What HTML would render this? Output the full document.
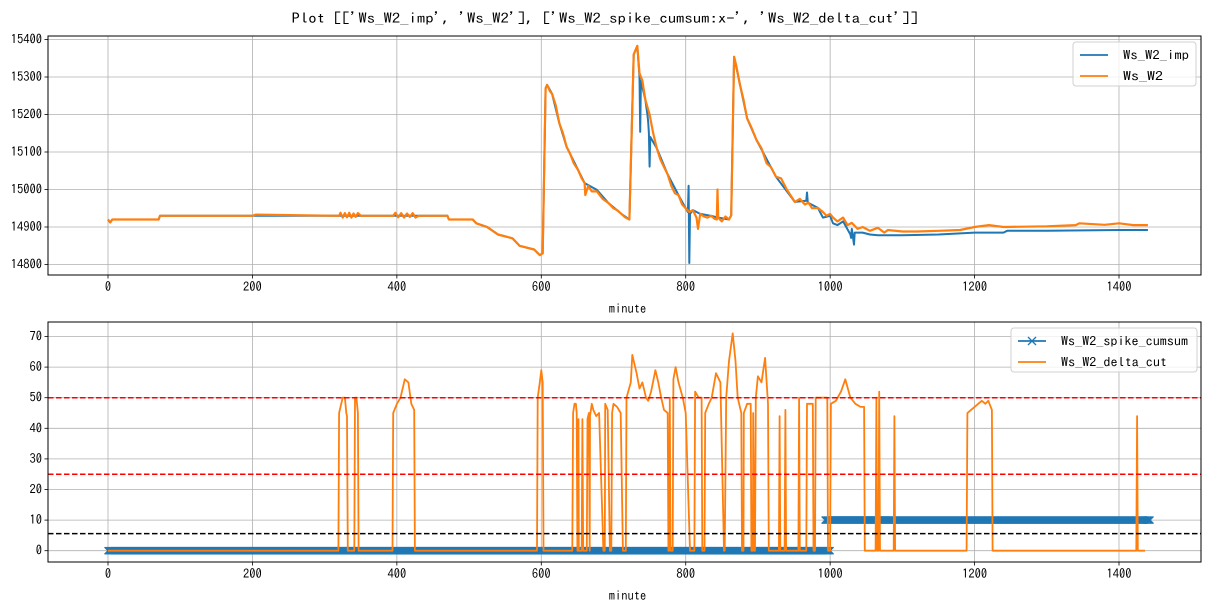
<!DOCTYPE html>
<html><head><meta charset="utf-8">
<style>
html,body{margin:0;padding:0;background:#fff;}
svg{display:block;font-family:"IPAGothic","Liberation Sans","Noto Sans CJK JP",sans-serif;}
</style></head>
<body>
<svg id="fig" width="1211" height="611" xmlns="http://www.w3.org/2000/svg">
<rect width="1211" height="611" fill="#fff"/>
<text x="605" y="23" text-anchor="middle" font-size="14" textLength="627" lengthAdjust="spacingAndGlyphs" fill="#000">Plot [['Ws_W2_imp', 'Ws_W2'], ['Ws_W2_spike_cumsum:x-', 'Ws_W2_delta_cut']]</text>
</svg>
<script>
// ---- top chart data ----
const w2Minutes = [
0,3,6,70,72,200,205,320,
322,325,328,331,334,337,340,343,346,350,
395,398,402,406,410,414,418,422,426,430,470,
472,505,510,525,540,560,570,590,598,602,
606,608,612,615,620,625,630,635,640,645,651,
656,660,661,665,670,677,685,693,700,705,711,716,722,
728,733,736,740,744,750,755,760,765,770,775,780,785,790,795,800,
805,810,815,817,820,825,830,835,840,843,844,845,850,855,860,863,
867,870,875,880,885,890,898,905,912,918,925,932,940,945,951,958,965,970,975,983,
990,995,1000,1004,1010,1018,1024,1030,1038,1045,1055,1066,1075,1080,1100,1120,1150,1180,1200,1220,1240,
1300,1340,1345,1380,1400,1420,1440];
const w2Values = [
14920,14912,14920,14920,14930,14930,14933,14930,
14938,14925,14937,14926,14938,14925,14936,14927,14937,14930,
14930,14938,14926,14937,14925,14936,14927,14937,14925,14930,14930,
14920,14920,14910,14900,14880,14870,14850,14840,14825,14830,
15270,15279,15262,15255,15225,15177,15150,15114,15095,15070,15052,
15030,15017,14985,15010,14995,14995,14975,14964,14950,14945,14935,14926,14920,
15360,15383,15310,15290,15240,15200,15150,15110,15080,15060,15040,15010,14990,14985,14960,14950,
14940,14945,14925,14895,14935,14928,14925,14930,14922,14920,15000,14925,14915,14928,14920,14931,
15354,15330,15280,15240,15190,15170,15132,15110,15070,15060,15034,15030,15000,14985,14967,14975,14960,14965,14950,14951,
14940,14930,14935,14925,14915,14925,14905,14911,14895,14900,14890,14898,14885,14892,14888,14888,14890,14892,14900,14905,14900,
14902,14905,14910,14906,14910,14905,14905];
const impMinutes = [
0,3,6,70,72,470,472,505,510,525,540,560,570,590,598,602,
606,608,615,625,635,651,660,677,693,711,722,
728,733,736,737,738,744,747,748,749,750,751,760,775,790,800,
803,804,805,806,810,820,835,845,860,863,
867,885,898,925,951,967,968,969,983,990,1000,1004,1010,1018,1028,1029,1030,1033,1034,1045,1055,1066,
1080,1100,1150,1200,1240,1245,1300,1400,1440];
const impValues = [
14920,14912,14920,14920,14930,14930,14920,14920,14910,14900,14880,14870,14850,14840,14825,14830,
15270,15279,15255,15177,15114,15052,15017,14999,14964,14935,14920,
15360,15383,15300,15154,15290,15240,15200,15180,15150,15061,15140,15110,15040,14985,14950,
14940,15010,14804,14935,14945,14935,14930,14925,14920,14931,
15354,15190,15132,15034,14967,14970,14992,14965,14951,14925,14930,14910,14905,14915,14880,14871,14895,14853,14885,14885,14880,14878,
14878,14878,14880,14885,14885,14890,14890,14892,14892];
const topYTicks = [14800,14900,15000,15100,15200,15300,15400];
const xTicks = [0,200,400,600,800,1000,1200,1400];
// ---- bottom chart data ----
const cutMinutes = [
0,319,
320,322,325,328,330,331,332,
341,342,344,346,347,
394,395,400,405,411,416,420,424,425,
594,595,598,600,602,603,
643,644,646,648,649,650,
651,651.5,652,
656,657,658,
663,664,666,667,667.5,670,672,676,680,686,
688,688.5,692,695,
697,698,700,705,710,713,
717,718,724,726,732,736,740,745,748,752,758,762,766,770,775,776,
777,778,779,782,783,786,790,796,800,806,
812,813,818,822,823,
826,827,832,836,842,848,853,
854,856,860,865,869,872,877,878,
880,880.5,885,890,891,893,893.5,895,
896,897,900,905,910,914,915,
929,930,931,937,938,939,
956,957,958,967,968,972,976,977,979,980,984,986,996,997,
1000,1001,1008,1015,1021,1028,1035,1042,1047,1048,
1063,1064,1065,1067,1068,1069,1088,1089,1090,
1189,1190,1195,1200,1205,1210,1215,1219,1224,1225,
1424,1425,1426,1436];
const cutValues = [
0,0,
45,47,50,50,45,44,0,
0,50,50,45,0,
0,45,48,50,56,55,48,46,0,
0,50,55,59,55,0,
0,45,48,48,45,0,
0,43,0,
0,43,0,
0,43,45,0,44,48,46,44,45,0,
0,48,46,0,
0,45,48,47,45,0,
0,50,55,64,58,53,55,50,49,52,59,55,50,46,45,0,
0,50,0,0,56,60,55,50,45,0,
0,52,50,50,0,
0,45,48,50,58,55,0,
0,50,62,71,62,50,45,0,
0,45,48,48,0,0,45,0,
0,50,57,55,63,48,0,
0,44,0,0,46,0,
0,50,0,0,48,48,48,0,0,50,50,50,50,0,
0,48,49,52,56,50,48,47,47,0,
0,50,0,0,52,0,0,44,0,
0,45,46,47,48,49,48,49,46,0,
0,44,0,0];
const cumsumStarts = [0,993];
const cumsumEnds   = [1000,1443];
const cumsumValues = [0,10];
const botYTicks = [0,10,20,30,40,50,60,70];
const hLineValues = [50,25,5.6];
const hLineColors = ['#ff0000','#ff0000','#000000'];

const NS='http://www.w3.org/2000/svg';
const svg=document.getElementById('fig');
function mk(tag,attrs,parent){const e=document.createElementNS(NS,tag);for(const k in attrs)e.setAttribute(k,attrs[k]);(parent||svg).appendChild(e);return e;}
const X0=48, X1=1201;
const xs=m=>108+(m)*(1119-108)/1400;
const ysTop=v=>264.5-(v-14800)*(225/600);
const ysBot=v=>550.7-v*(153/50);

function axes(top,bot,yTicks,ys,name){
  const g=mk('g',{});
  
  
  xTicks.forEach(t=>{
    const l=mk('line',{x1:xs(t),x2:xs(t),y1:top,y2:bot,stroke:'#b0b0b0','stroke-width':0.8},g);
    
    
    mk('line',{x1:xs(t),x2:xs(t),y1:bot,y2:bot+3.5,stroke:'#000','stroke-width':0.8},g);
    const tx=mk('text',{x:xs(t),y:bot+16,'text-anchor':'middle','font-size':12.5},g);
    tx.textContent=t;
    
    
  });
  yTicks.forEach(t=>{
    const l=mk('line',{x1:X0,x2:X1,y1:ys(t),y2:ys(t),stroke:'#b0b0b0','stroke-width':0.8},g);
    
    
    mk('line',{x1:X0-3.5,x2:X0,y1:ys(t),y2:ys(t),stroke:'#000','stroke-width':0.8},g);
    const tx=mk('text',{x:X0-6,y:ys(t)+4,'text-anchor':'end','font-size':12.5},g);
    tx.textContent=t;
    
    
  });
  const xl=mk('text',{x:(X0+X1)/2+3,y:bot+38,'text-anchor':'middle','font-size':12.5},g);
  xl.textContent='minute';
  
  
  return g;
}
function frame(top,bot,name){
  const r=mk('rect',{x:X0,y:top,width:X1-X0,height:bot-top,fill:'none',stroke:'#000','stroke-width':1});
  
  
}
function poly(ms,vs,ys,color,w,name){
  let d='';ms.forEach((m,i)=>{d+=(i?'L':'M')+xs(m).toFixed(1)+','+ys(vs[i]).toFixed(1);});
  const p=mk('path',{d:d,fill:'none',stroke:color,'stroke-width':w,'stroke-linejoin':'round'});
  
  
  return p;
}
// top
axes(36,275,topYTicks,ysTop,'top-axes');
poly(impMinutes,impValues,ysTop,'#1f77b4',2,'line-ws-w2-imp');
poly(w2Minutes,w2Values,ysTop,'#ff7f0e',2.2,'line-ws-w2');
frame(36,275,'top-plot-frame');
// bottom
axes(322,562,botYTicks,ysBot,'bottom-axes');
const cg=mk('g',{});


cumsumStarts.forEach((s,i)=>{
  const y=ysBot(cumsumValues[i]);
  let d='';
  for(let m=s;m<=cumsumEnds[i];m+=1){const x=xs(m);d+='M'+(x-3.5)+','+(y-3.5)+'L'+(x+3.5)+','+(y+3.5)+'M'+(x-3.5)+','+(y+3.5)+'L'+(x+3.5)+','+(y-3.5);}
  mk('path',{d:d,stroke:'#1f77b4','stroke-width':1.2,fill:'none'},cg);
  mk('line',{x1:xs(s),x2:xs(cumsumEnds[i]),y1:y,y2:y,stroke:'#1f77b4','stroke-width':1.5},cg);
});
poly(cutMinutes,cutValues,ysBot,'#ff7f0e',1.8,'line-ws-w2-delta-cut');
hLineValues.forEach((v,i)=>{
  const l=mk('line',{x1:X0,x2:X1,y1:ysBot(v),y2:ysBot(v),stroke:hLineColors[i],'stroke-width':1.5,'stroke-dasharray':'5.5,2.5'});
  
  
});
frame(322,562,'bottom-plot-frame');
// legends
function legend(x,y,w,items,name){
  const g=mk('g',{});
  
  
  mk('rect',{x:x,y:y,width:w,height:44,rx:3,fill:'#fff','fill-opacity':0.8,stroke:'#d0d0d0'},g);
  items.forEach((it,i)=>{
    const yy=y+13+i*21;
    const e=mk('g',{},g);
    
    
    mk('line',{x1:x+7,x2:x+35,y1:yy,y2:yy,stroke:it[1],'stroke-width':1.8},e);
    if(it[2]) mk('path',{d:`M${x+17},${yy-4}L${x+25},${yy+4}M${x+17},${yy+4}L${x+25},${yy-4}`,stroke:it[1],'stroke-width':1.3},e);
    const t=mk('text',{x:x+50,y:yy+4.5,'font-size':13,textLength:it[3],lengthAdjust:'spacingAndGlyphs'},e);
    t.textContent=it[0];
  });
}
legend(1073,42,123,[['Ws_W2_imp','#1f77b4',false,66],['Ws_W2','#ff7f0e',false,40]],'top-legend');
legend(1011,328,186,[['Ws_W2_spike_cumsum','#1f77b4',true,127],['Ws_W2_delta_cut','#ff7f0e',false,106]],'bottom-legend');
</script>
</body></html>
